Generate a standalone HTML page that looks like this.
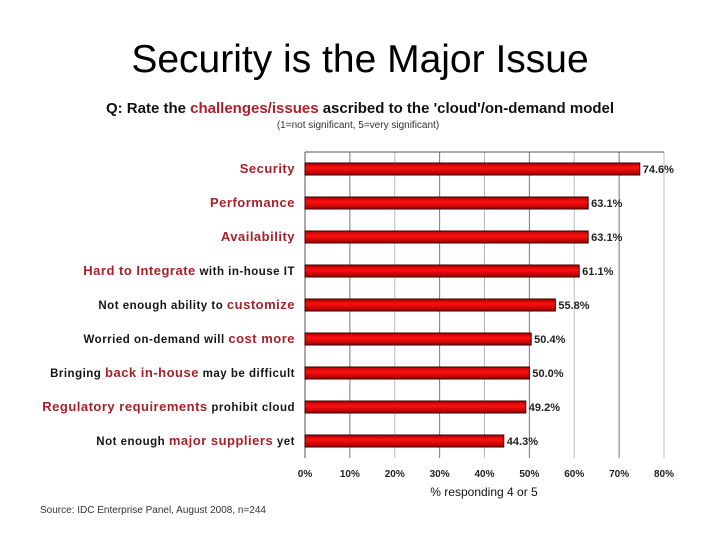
<!DOCTYPE html>
<html><head><meta charset="utf-8"><style>
body{margin:0;width:720px;height:540px;background:#fff;overflow:hidden;font-family:"Liberation Sans",sans-serif}
</style></head><body>
<svg width="720" height="540" xmlns="http://www.w3.org/2000/svg">
<defs><linearGradient id="bg" x1="0" y1="0" x2="0" y2="1"><stop offset="0" stop-color="#b00000"/><stop offset="0.4" stop-color="#ff1010"/><stop offset="1" stop-color="#a00000"/></linearGradient></defs>
<text x="360" y="72" text-anchor="middle" font-size="39" font-family="Liberation Sans, sans-serif" fill="#000">Security is the Major Issue</text>
<text x="360" y="113" text-anchor="middle" font-size="15" font-weight="bold" fill="#111">Q: Rate the <tspan fill="#b0202a">challenges/issues</tspan> ascribed to the 'cloud'/on-demand model</text>
<text x="358" y="128" text-anchor="middle" font-size="10" fill="#333">(1=not significant, 5=very significant)</text>
<g id="grid"></g><g id="bars"></g><g id="labels"></g>
<text x="484" y="496" text-anchor="middle" font-size="12" fill="#111">% responding 4 or 5</text>
<text x="40" y="513" font-size="10" fill="#333">Source: IDC Enterprise Panel, August 2008, n=244</text>
</svg>
<script>
const values=[74.6,63.1,63.1,61.1,55.8,50.4,50.0,49.2,44.3];
const valueLabels=["74.6%","63.1%","63.1%","61.1%","55.8%","50.4%","50.0%","49.2%","44.3%"];
const labels=[
[["Security",1]],
[["Performance",1]],
[["Availability",1]],
[["Hard to Integrate",1],[" with in-house IT",0]],
[["Not enough ability to ",0],["customize",1]],
[["Worried on-demand will ",0],["cost more",1]],
[["Bringing ",0],["back in-house",1],[" may be difficult",0]],
[["Regulatory requirements",1],[" prohibit cloud",0]],
[["Not enough ",0],["major suppliers",1],[" yet",0]]
];
const ticks=[0,10,20,30,40,50,60,70,80];
const tickLabels=["0%","10%","20%","30%","40%","50%","60%","70%","80%"];
const NS="http://www.w3.org/2000/svg";
const x0=305,x1=664,plotTop=152,band=34;
const xs=v=>x0+(v-0)/(80-0)*(x1-x0);
const yc=i=>plotTop+band*i+band/2;
const plotBottom=plotTop+band*values.length;
function mk(t,a,p){const e=document.createElementNS(NS,t);for(const k in a)e.setAttribute(k,a[k]);p.appendChild(e);return e;}
const g=document.getElementById('grid'),b=document.getElementById('bars'),l=document.getElementById('labels');
ticks.forEach((t,i)=>{
const ln=mk('line',{x1:xs(t),x2:xs(t),y1:plotTop,y2:plotBottom,stroke:i%2?'#777':'#bbb','stroke-width':1},g);


const tx=mk('text',{x:xs(t),y:plotBottom+19,'text-anchor':'middle','font-size':10,'font-weight':'bold',fill:'#222'},g);
tx.textContent=tickLabels[i];


});
const ax=mk('line',{x1:x0,x2:x0,y1:plotTop,y2:plotBottom,stroke:'#555'},g);


const tp=mk('line',{x1:x0,x2:x1,y1:plotTop,y2:plotTop,stroke:'#555'},g);


values.forEach((v,i)=>{
const r=mk('rect',{x:xs(0),y:yc(i)-6,width:xs(v)-xs(0),height:12,fill:'url(#bg)',stroke:'#300','stroke-width':1},b);


const vt=mk('text',{x:xs(v)+3,y:yc(i)+4,'font-size':11,'font-weight':'bold',fill:'#222'},b);
vt.textContent=valueLabels[i];


const ct=mk('text',{x:295,y:yc(i)+4,'text-anchor':'end','font-size':12,'font-weight':'bold','letter-spacing':0.5},l);


labels[i].forEach(([s,red])=>{const ts=mk('tspan',{fill:red?'#a8202a':'#151515','font-size':red?13:11.5},ct);ts.textContent=s;});
});
</script>
</body></html>
